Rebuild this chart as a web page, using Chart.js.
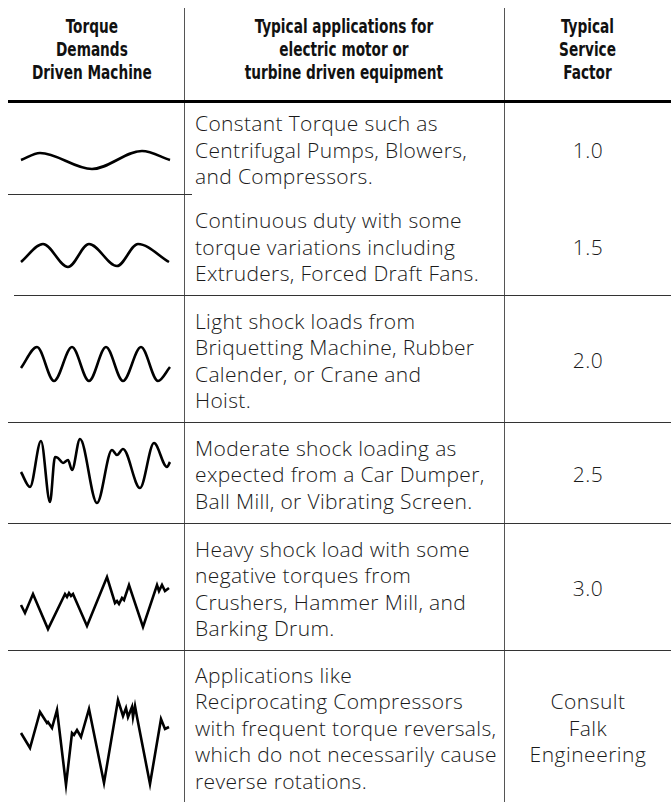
<!DOCTYPE html>
<html>
<head>
<meta charset="utf-8">
<script src="https://cdn.jsdelivr.net/npm/chart.js@4.4.1/dist/chart.umd.min.js"></script>
<style>
body { margin: 0; background: #fff; }
#page { position: relative; width: 671px; height: 802px; overflow: hidden; background: #fff;
        font-family: "Open Sans", sans-serif; color: #1a1a1a; }
.hd { position: absolute; top: 9px; height: 80px; display: flex; align-items: center; justify-content: center;
      text-align: center; font-family: "Liberation Sans Narrow", "DejaVu Sans Condensed", sans-serif;
      font-weight: bold; font-size: 19px; line-height: 23px; color: #111; }
.hd > div { transform: scaleX(0.8); white-space: nowrap; }
.hl { position: absolute; height: 1px; background: #333; }
.vl { position: absolute; width: 1px; background: #555; }
.app { position: absolute; left: 195px; width: 309px; display: flex; align-items: center;
       font-size: 21px; font-weight: 300; letter-spacing: 0.35px; line-height: 26.5px; padding-top: 4px;
       box-sizing: border-box; white-space: nowrap; }
.sf { position: absolute; left: 505px; width: 166px; display: flex; align-items: center; justify-content: center;
      text-align: center; font-size: 21px; font-weight: 300; letter-spacing: 0.5px; line-height: 26.5px; padding-top: 4px;
      box-sizing: border-box; }
.wave { position: absolute; left: 0; }
</style>
</head>
<body>
<div id="page"></div>
<script>
// column headings
const headers = [
    ['Torque', 'Demands', 'Driven Machine'],
    ['Typical applications for', 'electric motor or', 'turbine driven equipment'],
    ['Typical', 'Service', 'Factor']
];

// one entry per row
const applications = [
    ['Constant Torque such as', 'Centrifugal Pumps, Blowers,', 'and Compressors.'],
    ['Continuous duty with some', 'torque variations including', 'Extruders, Forced Draft Fans.'],
    ['Light shock loads from', 'Briquetting Machine, Rubber', 'Calender, or Crane and', 'Hoist.'],
    ['Moderate shock loading as', 'expected from a Car Dumper,', 'Ball Mill, or Vibrating Screen.'],
    ['Heavy shock load with some', 'negative torques from', 'Crushers, Hammer Mill, and', 'Barking Drum.'],
    ['Applications like', 'Reciprocating Compressors', 'with frequent torque reversals,', 'which do not necessarily cause', 'reverse rotations.']
];
const serviceFactors = [['1.0'], ['1.5'], ['2.0'], ['2.5'], ['3.0'], ['Consult', 'Falk', 'Engineering']];

// torque demand curves: time and torque (relative to each row's mean)
const wave1T = [0, 19, 71, 121, 149];
const wave1Q = [0, 7, -9, 9, 0];
const wave2T = [0, 22, 47, 68, 96, 117, 148];
const wave2Q = [-7, 11, -12, 11, -11, 11, -7];
const wave3T = [0, 16, 33, 51, 68, 85, 102, 120, 137, 149];
const wave3Q = [-4, 17, -17, 17, -17, 17, -17, 17, -17, -3];
const wave4T = [0, 9, 20, 29, 34, 37, 42, 47, 51, 59, 76, 91, 96, 102, 119, 133, 146, 149];
const wave4Q = [-1, -16, 30, -31, 14, 13, 8, 11, 1, 32, -32, 21, 16, 22, -17, 28, 4, 9];
const wave5T = [0, 4, 12, 27, 44, 46, 48, 50, 52, 66, 86, 94, 96, 98, 101, 103, 108, 122, 136, 138, 141, 144, 148];
const wave5Q = [0, -8, 11, -24, 11, 8, 12, 9, 11, -21, 28, 2, 4, 1, 7, 5, 20, -22, 20, 14, 20, 14, 17];
const wave6T = [0, 9, 19, 26, 27, 31, 36, 45, 51, 53, 56, 60, 68, 83, 97, 102, 105, 107, 111, 112, 114, 116, 129, 140, 144, 148];
const wave6Q = [12, -3, 33, 22, 23, 17, 35, -40, 12, 10, 15, 8, 36, -38, 45, 29, 37, 28, 38, 28, 39, 28, -39, 26, 16, 18];

const waves = [
    { t: wave1T, q: wave1Q, smooth: true },
    { t: wave2T, q: wave2Q, smooth: true },
    { t: wave3T, q: wave3Q, smooth: true },
    { t: wave4T, q: wave4Q, smooth: true },
    { t: wave5T, q: wave5Q, smooth: false },
    { t: wave6T, q: wave6Q, smooth: false }
];

// layout
const rowEdges = [101, 195, 295, 422, 523, 650, 802];
const waveMid = [160, 255, 364, 471, 605, 745];
const page = document.getElementById('page');

function addDiv(cls, css, html) {
    const d = document.createElement('div');
    d.className = cls;
    Object.assign(d.style, css);
    if (html !== undefined) d.innerHTML = html;
    page.appendChild(d);
    return d;
}

// headings
const headCols = [[0, 184], [184, 320], [504, 167]];
headers.forEach((h, i) => {
    addDiv('hd', { left: headCols[i][0] + 'px', width: headCols[i][1] + 'px' }, '<div>' + h.join('<br>') + '</div>');
});

// grid
addDiv('vl', { left: '184px', top: '8px', height: '794px' });
addDiv('vl', { left: '504px', top: '8px', height: '794px' });
addDiv('hl', { left: '8px', width: '663px', top: '100px', height: '3px', background: '#000' });
addDiv('hl', { left: '8px', width: '184px', top: '194px' });
[[295, 14], [422, 8], [523, 8], [650, 8]].forEach(([y, x0]) => {
    addDiv('hl', { left: x0 + 'px', width: (671 - x0) + 'px', top: y + 'px' });
});

// rows
applications.forEach((lines, i) => {
    const top = rowEdges[i], h = rowEdges[i + 1] - rowEdges[i];
    addDiv('app', { top: top + 'px', height: h + 'px' }, '<div>' + lines.join('<br>') + '</div>');
    addDiv('sf', { top: top + 'px', height: h + 'px' }, '<div>' + serviceFactors[i].join('<br>') + '</div>');
});

// torque curves
waves.forEach((w, i) => {
    const cv = document.createElement('canvas');
    cv.className = 'wave';
    cv.width = 184;
    cv.height = 120;
    cv.style.top = (waveMid[i] - 60) + 'px';
    page.appendChild(cv);
    new Chart(cv.getContext('2d'), {
        type: 'line',
        data: {
            datasets: [{
                data: w.t.map((t, j) => ({ x: t, y: w.q[j] })),
                borderColor: '#000',
                borderWidth: 2.6,
                pointRadius: 0,
                fill: false,
                cubicInterpolationMode: w.smooth ? 'monotone' : 'default',
                tension: 0,
                borderJoinStyle: 'miter'
            }]
        },
        options: {
            responsive: false,
            animation: false,
            events: [],
            layout: { padding: 0 },
            plugins: { legend: { display: false }, tooltip: { enabled: false } },
            scales: {
                x: { type: 'linear', display: false, min: -21, max: 163 },
                y: { display: false, min: -60, max: 60 }
            }
        }
    });
});
</script>
</body>
</html>
